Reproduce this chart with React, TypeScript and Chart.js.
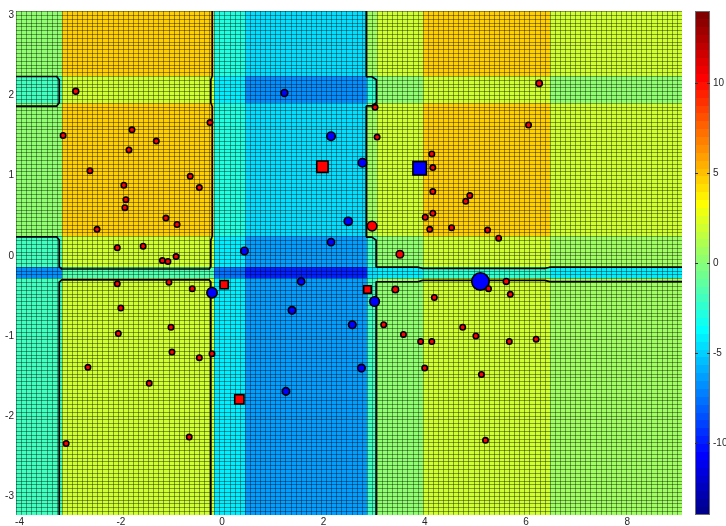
import React, { useEffect, useRef } from 'react';
import { Chart, registerables } from 'chart.js';

Chart.register(...registerables);

// ---- axis ranges and ticks ----
const X_MIN = -4.07;
const X_MAX = 9.08;
const Y_MIN = -3.23;
const Y_MAX = 3.05;
const C_MIN = -14;
const C_MAX = 14;
const MESH_NX = 131;
const MESH_NY = 132;

const xTicks = [-4, -2, 0, 2, 4, 6, 8];
const yTicks = [-3, -2, -1, 0, 1, 2, 3];
const cbTicks = [-10, -5, 0, 5, 10];

// ---- decision score field: piecewise-constant bands ----
const xBandEdges = [-3.17, -0.17, 0.4, 2.85, 3.04, 3.95, 6.44];
const yBandEdges = [-0.29, -0.16, 0.22, 1.87, 2.22];
const scoreLow = [-2.0, 2.0, -4.2, -6.3, -2.0, 0.4, 2.0, 0.5];
const scoreStripe0 = [-6.8, -1.5, -7.8, -10.0, -4.5, -4.2, -2.5, -4.2];
const scoreMid = [-2.0, 2.0, -4.2, -6.3, -2.0, 0.4, 2.0, 0.5];
const scoreUpper = [0.3, 4.4, -3.0, -4.7, 0.6, 2.0, 4.4, 2.0];
const scoreStripe2 = [-2.0, 2.0, -4.2, -6.6, -2.5, 0.3, 2.0, 0.2];
const scoreTop = [0.3, 4.4, -3.0, -4.7, 0.6, 2.0, 4.4, 2.0];
const scoreRows = [scoreLow, scoreStripe0, scoreMid, scoreUpper, scoreStripe2, scoreTop];

// ---- samples ----
const redX = [-2.89, -3.14, -1.78, -1.3, -1.84, -0.24, -2.61, -0.63, -1.94, -0.45, -1.9, -1.92, -1.11, -0.89, -2.47, -2.07, -1.56, -0.91, -1.18, -1.07, -2.07, -1.05, -0.59, -2.0, -1.01, -2.05, -0.99, -0.45, -0.2, -2.65, -1.44, -3.08, -0.65,
  3.02, 3.06, 4.14, 4.16, 6.26, 6.05, 4.16, 4.89, 4.81, 4.01, 4.16, 4.1, 4.53, 5.24, 5.46, 3.51, 2.96, 3.42, 4.19, 5.26, 5.61, 5.69, 3.19, 3.58, 3.92, 4.14, 4.75, 5.01, 5.67, 6.2, 4.0, 5.12, 5.2];
const redY = [2.05, 1.5, 1.57, 1.43, 1.32, 1.66, 1.06, 0.99, 0.88, 0.85, 0.7, 0.6, 0.47, 0.39, 0.33, 0.1, 0.12, -0.01, -0.06, -0.07, -0.35, -0.33, -0.41, -0.65, -0.89, -0.97, -1.2, -1.27, -1.22, -1.39, -1.59, -2.34, -2.26,
  1.85, 1.48, 1.27, 1.1, 2.15, 1.63, 0.8, 0.75, 0.68, 0.48, 0.53, 0.33, 0.35, 0.32, 0.22, 0.02, 0.37, -0.42, -0.52, -0.41, -0.32, -0.48, -0.86, -0.98, -1.07, -1.07, -0.89, -1.0, -1.07, -1.04, -1.4, -1.48, -2.3];
const redWeight = [1.07, 1, 1, 1, 1, 1, 1, 1, 1, 1, 1, 1, 1, 1, 1, 1, 1, 1, 1, 1, 1, 1, 1, 1, 1, 1, 1, 1, 1, 1, 1, 1, 1,
  1, 1, 1, 1, 1.12, 1, 1, 1, 1, 1, 1, 1, 1, 1, 1, 1.3, 1.6, 1.15, 1, 1, 1.07, 1, 1, 1, 1, 1, 1, 1, 1, 1, 1, 1, 1];

const blueX = [1.23, 2.15, 2.77, 2.49, 2.15, 0.44, 1.56, 1.38, 2.57, 3.01, -0.2, 2.75, 1.26, 5.1];
const blueY = [2.03, 1.49, 1.16, 0.43, 0.17, 0.06, -0.32, -0.68, -0.86, -0.57, -0.46, -1.4, -1.69, -0.32];
const blueWeight = [1.2, 1.45, 1.45, 1.4, 1.25, 1.3, 1.25, 1.3, 1.3, 1.6, 1.7, 1.3, 1.3, 2.7];

const redSqX = [1.98, 0.04, 2.87, 0.34];
const redSqY = [1.11, -0.36, -0.42, -1.79];
const redSqWeight = [1.85, 1.4, 1.3, 1.55];

const blueSqX = [3.9];
const blueSqY = [1.09];
const blueSqWeight = [2.15];

// ---- helpers ----
const BASE_D = 7;
const BW = 1.6;
const circleR = (w: number) => (w * BASE_D) / 2 - BW / 2;
const rectR = (w: number) => (w * BASE_D - BW) / Math.SQRT2;

function jet64(): number[][] {
  const m = 64, n = 16;
  const u: number[] = [];
  for (let i = 1; i <= n; i++) u.push(i / n);
  for (let i = 0; i < n - 1; i++) u.push(1);
  for (let i = n; i >= 1; i--) u.push(i / n);
  const J = Array.from({ length: m }, () => [0, 0, 0]);
  const g0 = Math.ceil(n / 2) - (m % 4 === 1 ? 1 : 0);
  for (let k = 0; k < u.length; k++) {
    const g = g0 + k + 1;
    const r = g + n, b = g - n;
    if (r >= 1 && r <= m) J[r - 1][0] = u[k];
    if (g >= 1 && g <= m) J[g - 1][1] = u[k];
    if (b >= 1 && b <= m) J[b - 1][2] = u[k];
  }
  return J;
}
const JET = jet64().map(c => `rgb(${Math.round(c[0] * 255)},${Math.round(c[1] * 255)},${Math.round(c[2] * 255)})`);
function colorFor(v: number) {
  let idx = Math.floor(((v - C_MIN) / (C_MAX - C_MIN)) * 64);
  if (idx < 0) idx = 0;
  if (idx > 63) idx = 63;
  return JET[idx];
}
function bandIndex(edges: number[], v: number) {
  let k = 0;
  while (k < edges.length && v >= edges[k]) k++;
  return k;
}
function score(x: number, y: number) {
  return scoreRows[bandIndex(yBandEdges, y)][bandIndex(xBandEdges, x)];
}

const fieldPlugin = {
  id: 'field',
  beforeDatasetsDraw(chart: any) {
    const { ctx, chartArea: a, scales } = chart;
    const xs = scales.x, ys = scales.y;
    const dx = (X_MAX - X_MIN) / MESH_NX, dy = (Y_MAX - Y_MIN) / MESH_NY;
    const gx: number[] = [], gy: number[] = [];
    for (let i = 0; i <= MESH_NX; i++) gx.push(X_MIN + i * dx);
    for (let j = 0; j <= MESH_NY; j++) gy.push(Y_MIN + j * dy);
    const V = gx.map(x => gy.map(y => score(x, y)));
    const px = gx.map(x => Math.round(xs.getPixelForValue(x)));
    const py = gy.map(y => Math.round(ys.getPixelForValue(y)));
    ctx.save();
    ctx.beginPath();
    ctx.rect(a.left, a.top, a.right - a.left, a.bottom - a.top);
    ctx.clip();
    for (let i = 0; i < MESH_NX; i++) {
      for (let j = 0; j < MESH_NY; j++) {
        ctx.fillStyle = colorFor(V[i][j]);
        ctx.fillRect(px[i], py[j + 1], px[i + 1] - px[i], py[j] - py[j + 1]);
      }
    }
    // mesh edges
    ctx.strokeStyle = 'rgba(0,0,0,0.38)';
    ctx.lineWidth = 1;
    ctx.beginPath();
    for (let i = 0; i <= MESH_NX; i++) {
      ctx.moveTo(px[i] + 0.5, a.top);
      ctx.lineTo(px[i] + 0.5, a.bottom);
    }
    for (let j = 0; j <= MESH_NY; j++) {
      ctx.moveTo(a.left, py[j] + 0.5);
      ctx.lineTo(a.right, py[j] + 0.5);
    }
    ctx.stroke();
    // zero contour (marching squares)
    const segs: number[][] = [];
    const push = (p: number[], q: number[]) => segs.push([p[0], p[1], q[0], q[1]]);
    for (let i = 0; i < MESH_NX; i++) {
      for (let j = 0; j < MESH_NY; j++) {
        const A = V[i][j], B = V[i + 1][j], C = V[i + 1][j + 1], D = V[i][j + 1];
        const code = (A > 0 ? 1 : 0) | (B > 0 ? 2 : 0) | (C > 0 ? 4 : 0) | (D > 0 ? 8 : 0);
        if (code === 0 || code === 15) continue;
        const x0 = gx[i], x1 = gx[i + 1], y0 = gy[j], y1 = gy[j + 1];
        const lerp = (p: number, q: number, u: number, w: number) => p + (q - p) * (u / (u - w));
        const eB = () => [lerp(x0, x1, A, B), y0];
        const eR = () => [x1, lerp(y0, y1, B, C)];
        const eT = () => [lerp(x0, x1, D, C), y1];
        const eL = () => [x0, lerp(y0, y1, A, D)];
        const center = (A + B + C + D) / 4;
        switch (code) {
          case 1: case 14: push(eL(), eB()); break;
          case 2: case 13: push(eB(), eR()); break;
          case 3: case 12: push(eL(), eR()); break;
          case 4: case 11: push(eR(), eT()); break;
          case 6: case 9: push(eB(), eT()); break;
          case 7: case 8: push(eL(), eT()); break;
          case 5:
            if (center > 0) { push(eB(), eR()); push(eL(), eT()); } else { push(eL(), eB()); push(eR(), eT()); }
            break;
          case 10:
            if (center > 0) { push(eL(), eB()); push(eR(), eT()); } else { push(eB(), eR()); push(eL(), eT()); }
            break;
        }
      }
    }
    ctx.strokeStyle = '#000';
    ctx.lineWidth = 1.7;
    ctx.lineCap = 'round';
    ctx.lineJoin = 'round';
    ctx.beginPath();
    for (const s of segs) {
      ctx.moveTo(xs.getPixelForValue(s[0]), ys.getPixelForValue(s[1]));
      ctx.lineTo(xs.getPixelForValue(s[2]), ys.getPixelForValue(s[3]));
    }
    ctx.stroke();
    ctx.restore();
  },
};

const colorbarPlugin = {
  id: 'colorbar',
  afterDraw(chart: any) {
    const { ctx } = chart;
    const cb = chart.scales.cb;
    const x0 = Math.round(cb.left) + 13;
    const w = 15;
    const step = (C_MAX - C_MIN) / 64;
    ctx.save();
    for (let k = 0; k < 64; k++) {
      const v0 = C_MIN + k * step;
      const ya = Math.round(cb.getPixelForValue(v0 + step));
      const yb = Math.round(cb.getPixelForValue(v0));
      ctx.fillStyle = JET[k];
      ctx.fillRect(x0, ya, w, yb - ya);
    }
    const top = Math.round(cb.getPixelForValue(C_MAX));
    const bot = Math.round(cb.getPixelForValue(C_MIN));
    ctx.strokeStyle = '#6e6e6e';
    ctx.lineWidth = 1;
    ctx.strokeRect(x0 + 0.5, top + 0.5, w - 1, bot - top - 1);
    ctx.strokeStyle = '#333';
    ctx.beginPath();
    for (const t of cbTicks) {
      const y = Math.round(cb.getPixelForValue(t)) + 0.5;
      ctx.moveTo(x0, y); ctx.lineTo(x0 + 3, y);
      ctx.moveTo(x0 + w - 3, y); ctx.lineTo(x0 + w, y);
    }
    ctx.stroke();
    ctx.restore();
  },
};

const tickFont = { family: "'Liberation Sans', Arial, sans-serif", size: 10 };
const tickColor = '#262626';

export default function App() {
  const ref = useRef<HTMLCanvasElement>(null);
  useEffect(() => {
    const pts = (xa: number[], ya: number[]) => xa.map((x, i) => ({ x, y: ya[i] }));
    const chart = new Chart(ref.current as HTMLCanvasElement, {
      type: 'scatter',
      data: {
        datasets: [
          {
            data: pts(redX, redY),
            pointStyle: 'circle',
            pointRadius: redWeight.map(circleR),
            backgroundColor: '#ff0000',
            borderColor: '#000',
            borderWidth: BW,
          },
          {
            data: pts(redSqX, redSqY),
            pointStyle: 'rect',
            pointRadius: redSqWeight.map(rectR),
            backgroundColor: '#ff0000',
            borderColor: '#000',
            borderWidth: BW,
          },
          {
            data: pts(blueSqX, blueSqY),
            pointStyle: 'rect',
            pointRadius: blueSqWeight.map(rectR),
            backgroundColor: '#0000ff',
            borderColor: '#000',
            borderWidth: BW,
          },
          {
            data: pts(blueX, blueY),
            pointStyle: 'circle',
            pointRadius: blueWeight.map(circleR),
            backgroundColor: '#0000ff',
            borderColor: '#000',
            borderWidth: BW,
          },
        ] as any,
      },
      options: {
        animation: false,
        responsive: false,
        maintainAspectRatio: false,
        events: [],
        layout: { padding: { top: 6, left: 0, right: 0, bottom: 0 } },
        plugins: { legend: { display: false }, tooltip: { enabled: false }, title: { display: false } },
        scales: {
          x: {
            type: 'linear',
            min: X_MIN,
            max: X_MAX,
            grid: { display: false, drawTicks: true, tickLength: 1 },
            border: { display: false },
            ticks: { font: tickFont, color: tickColor, padding: 0, maxRotation: 0, autoSkip: false },
            afterBuildTicks: (s: any) => { s.ticks = xTicks.map(v => ({ value: v })); },
            afterFit: (s: any) => { s.height = 11; },
          },
          y: {
            type: 'linear',
            position: 'left',
            min: Y_MIN,
            max: Y_MAX,
            grid: { display: false, drawTicks: true, tickLength: 2 },
            border: { display: false },
            ticks: { font: tickFont, color: tickColor, padding: 0, autoSkip: false },
            afterBuildTicks: (s: any) => { s.ticks = yTicks.map(v => ({ value: v })); },
            afterFit: (s: any) => { s.width = 16; },
          },
          cb: {
            type: 'linear',
            axis: 'y',
            position: 'right',
            min: C_MIN,
            max: C_MAX,
            grid: { display: false, drawTicks: true, tickLength: 31 },
            border: { display: false },
            ticks: { font: tickFont, color: tickColor, padding: 0, autoSkip: false },
            afterBuildTicks: (s: any) => { s.ticks = cbTicks.map(v => ({ value: v })); },
            afterFit: (s: any) => { s.width = 44; },
          },
        } as any,
      },
      plugins: [fieldPlugin, colorbarPlugin],
    });
    return () => chart.destroy();
  }, []);
  return (
    <div style={{ position: 'fixed', left: 0, top: 0, width: 726, height: 526, background: '#fff' }}>
      <canvas ref={ref} width={726} height={526} style={{ display: 'block', width: 726, height: 526 }} />
    </div>
  );
}
